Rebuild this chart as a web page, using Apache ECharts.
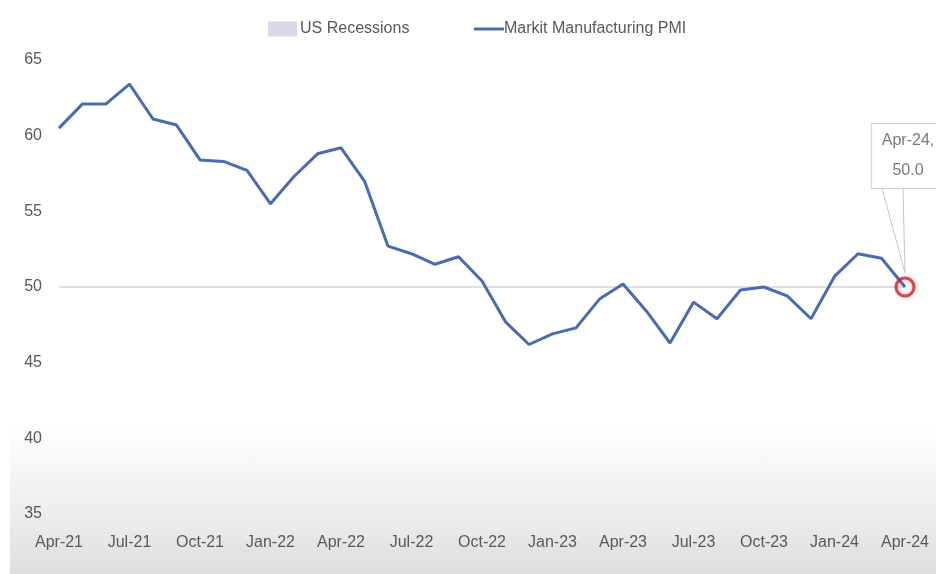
<!DOCTYPE html>
<html>
<head>
<meta charset="utf-8">
<script src="https://cdn.jsdelivr.net/npm/echarts@6/dist/echarts.min.js"></script>
<style>
  html, body { margin: 0; padding: 0; background: #ffffff; }
  #wrap { position: relative; width: 936px; height: 574px; }
  #shade { position: absolute; left: 10px; top: 0; right: 0; bottom: 0;
           background: linear-gradient(to bottom, #ffffff 0%, #ffffff 74%, #ececec 90%, #dedede 100%); }
  #chart { position: absolute; left: 0; top: 0; width: 936px; height: 574px; }
</style>
</head>
<body>
<div id="wrap">
  <div id="shade"></div>
  <div id="chart"></div>
</div>
<script>
// Monthly categories, Apr-21 .. Apr-24
const months = [
  'Apr-21','May-21','Jun-21','Jul-21','Aug-21','Sep-21','Oct-21','Nov-21','Dec-21',
  'Jan-22','Feb-22','Mar-22','Apr-22','May-22','Jun-22','Jul-22','Aug-22','Sep-22',
  'Oct-22','Nov-22','Dec-22','Jan-23','Feb-23','Mar-23','Apr-23','May-23','Jun-23',
  'Jul-23','Aug-23','Sep-23','Oct-23','Nov-23','Dec-23','Jan-24','Feb-24','Mar-24','Apr-24'
];

// Markit US Manufacturing PMI
const pmi = [
  60.5, 62.1, 62.1, 63.4, 61.1, 60.7, 58.4, 58.3, 57.7,
  55.5, 57.3, 58.8, 59.2, 57.0, 52.7, 52.2, 51.5, 52.0,
  50.4, 47.7, 46.2, 46.9, 47.3, 49.2, 50.2, 48.4, 46.3,
  49.0, 47.9, 49.8, 50.0, 49.4, 47.9, 50.7, 52.2, 51.9, 50.0
];

// No recession periods fall inside this window
const recessions = [];

const expansionLine = 50;
const yTicks = { min: 35, max: 65, step: 5 };
const seriesNames = ['US Recessions', 'Markit Manufacturing PMI'];

const FONT = '"Liberation Sans", Arial, sans-serif';
const TEXT = '#595959';
const BLUE = '#4a6cad';

const last = pmi.length - 1;

const chart = echarts.init(document.getElementById('chart'), null, { renderer: 'canvas' });

chart.setOption({
  backgroundColor: 'transparent',
  animation: false,
  textStyle: { fontFamily: FONT },
  legend: [
    {
      left: 263,
      top: 16,
      itemWidth: 29,
      itemHeight: 15,
      itemGap: 0,
      textStyle: { fontFamily: FONT, fontSize: 16, color: TEXT, padding: [0, 0, 0, -2] },
      data: [{ name: seriesNames[0], icon: 'rect' }]
    },
    {
      left: 469,
      top: 16,
      itemWidth: 30,
      itemHeight: 3,
      itemGap: 0,
      textStyle: { fontFamily: FONT, fontSize: 16, color: TEXT, padding: [0, 0, 0, -5] },
      data: [{ name: seriesNames[1], icon: 'rect' }]
    }
  ],
  grid: { left: 59, right: 31, top: 60, bottom: 60, containLabel: false },
  xAxis: {
    type: 'category',
    data: months,
    boundaryGap: false,
    axisLine: { show: false },
    axisTick: { show: false },
    splitLine: { show: false },
    axisLabel: {
      interval: 2,
      margin: 21,
      fontFamily: FONT,
      fontSize: 16,
      color: TEXT
    }
  },
  yAxis: {
    type: 'value',
    min: yTicks.min,
    max: yTicks.max,
    interval: yTicks.step,
    axisLine: { show: false },
    axisTick: { show: false },
    splitLine: { show: false },
    axisLabel: {
      margin: 17,
      fontFamily: FONT,
      fontSize: 16,
      color: TEXT
    }
  },
  series: [
    {
      name: seriesNames[0],
      type: 'bar',
      data: recessions,
      itemStyle: { color: '#d9d9ea' }
    },
    {
      name: seriesNames[1],
      type: 'line',
      data: pmi,
      symbol: 'none',
      showSymbol: false,
      z: 5,
      lineStyle: { color: BLUE, width: 3 },
      itemStyle: { color: BLUE },
      markLine: {
        silent: true,
        symbol: 'none',
        label: { show: false },
        lineStyle: { color: '#d6d6d6', width: 1.5, type: 'solid' },
        data: [{ yAxis: expansionLine }]
      }
    },
    {
      // highlighted latest reading with its callout label
      name: 'latest',
      type: 'scatter',
      z: 6,
      silent: true,
      data: [[last, pmi[last]]],
      symbol: 'circle',
      symbolSize: 18,
      itemStyle: {
        color: 'rgba(255,255,255,0)',
        borderColor: '#c0262e',
        borderWidth: 3,
        shadowBlur: 4,
        shadowColor: 'rgba(255,60,60,0.5)'
      },
      label: {
        show: true,
        position: 'inside',
        offset: [3, -131],
        formatter: p => months[p.value[0]] + ',\n' + Number(p.value[1]).toFixed(1),
        fontFamily: FONT,
        fontSize: 16,
        lineHeight: 30,
        color: TEXT,
        align: 'center',
        verticalAlign: 'middle',
        backgroundColor: '#ffffff',
        borderColor: '#c6c6c6',
        borderWidth: 1,
        padding: [2, 10, 2, 10]
      }
    }
  ]
});

// Callout pointer from the label box down to the latest reading
const pt = chart.convertToPixel({ xAxisIndex: 0, yAxisIndex: 0 }, [last, pmi[last]]);
chart.setOption({
  graphic: [{
    type: 'polyline',
    silent: true,
    z: 100,
    shape: {
      points: [
        [pt[0] - 23, pt[1] - 99],
        [pt[0], pt[1] - 14],
        [pt[0] - 2, pt[1] - 99]
      ]
    },
    style: { stroke: '#c6c6c6', lineWidth: 1, fill: null }
  }]
});
</script>
</body>
</html>
